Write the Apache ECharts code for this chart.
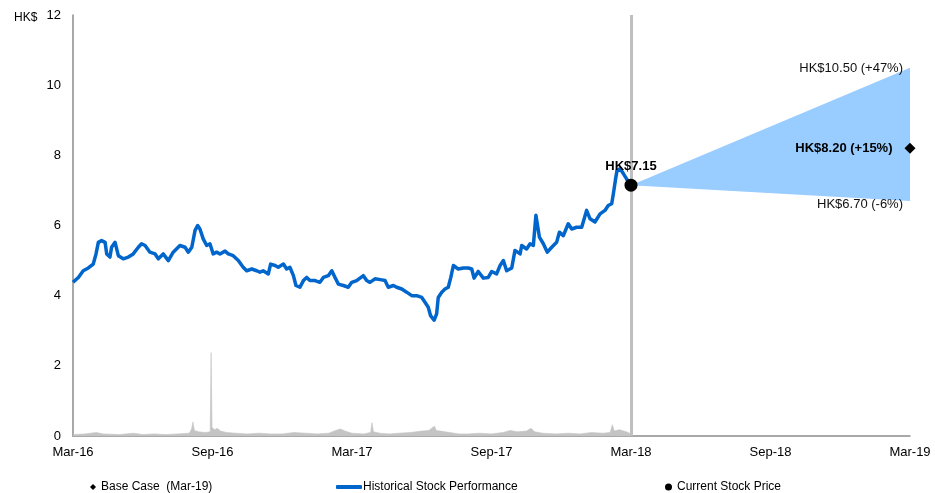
<!DOCTYPE html>
<html>
<head>
<meta charset="utf-8">
<script src="https://cdn.jsdelivr.net/npm/echarts@6/dist/echarts.min.js"></script>
<style>
  html, body { margin: 0; padding: 0; background: #fff; }
  #chart { width: 935px; height: 493px; }
</style>
</head>
<body>
<div id="chart"></div>
<script>
// x positions are months since Mar-16; prices in HK$
const tickLabels = ['Mar-16', 'Sep-16', 'Mar-17', 'Sep-17', 'Mar-18', 'Sep-18', 'Mar-19'];

// Historical closing price [month, HK$]
const priceHistory = [
  [0.00, 4.38], [0.23, 4.52], [0.44, 4.71], [0.66, 4.79], [0.87, 4.90], [0.99, 5.19],
  [1.09, 5.52], [1.23, 5.57], [1.38, 5.52], [1.45, 5.19], [1.59, 5.10], [1.66, 5.38],
  [1.81, 5.52], [1.95, 5.14], [2.16, 5.05], [2.38, 5.10], [2.59, 5.19], [2.81, 5.38],
  [2.95, 5.48], [3.10, 5.43], [3.31, 5.24], [3.53, 5.19], [3.67, 5.05], [3.88, 5.19],
  [4.10, 5.00], [4.31, 5.24], [4.60, 5.43], [4.82, 5.38], [4.96, 5.24], [5.11, 5.38],
  [5.25, 5.86], [5.36, 6.00], [5.46, 5.90], [5.60, 5.62], [5.75, 5.43], [5.89, 5.48],
  [6.03, 5.19], [6.18, 5.24], [6.32, 5.19], [6.54, 5.27], [6.68, 5.19], [6.89, 5.14],
  [7.11, 5.00], [7.32, 4.81], [7.47, 4.71], [7.69, 4.76], [7.90, 4.71], [8.04, 4.67],
  [8.18, 4.71], [8.40, 4.62], [8.50, 4.90], [8.69, 4.86], [8.83, 4.81], [9.05, 4.90],
  [9.19, 4.76], [9.33, 4.81], [9.48, 4.57], [9.59, 4.29], [9.76, 4.24], [9.91, 4.43],
  [10.05, 4.52], [10.19, 4.43], [10.41, 4.43], [10.62, 4.38], [10.77, 4.52], [10.98, 4.57],
  [11.13, 4.71], [11.27, 4.52], [11.41, 4.33], [11.63, 4.29], [11.84, 4.24], [11.99, 4.38],
  [12.20, 4.43], [12.49, 4.57], [12.63, 4.43], [12.77, 4.38], [12.99, 4.48], [13.28, 4.45],
  [13.42, 4.43], [13.56, 4.24], [13.78, 4.29], [13.92, 4.24], [14.14, 4.19], [14.35, 4.10],
  [14.57, 4.00], [14.78, 4.00], [15.00, 3.95], [15.14, 3.81], [15.28, 3.67], [15.38, 3.43],
  [15.53, 3.30], [15.64, 3.48], [15.71, 3.95], [15.86, 4.10], [16.00, 4.19], [16.14, 4.24],
  [16.25, 4.52], [16.36, 4.86], [16.57, 4.76], [16.79, 4.79], [17.00, 4.79], [17.15, 4.76],
  [17.25, 4.50], [17.43, 4.69], [17.65, 4.50], [17.86, 4.52], [18.01, 4.69], [18.22, 4.62],
  [18.37, 4.86], [18.51, 5.00], [18.65, 4.71], [18.87, 4.79], [19.01, 5.29], [19.23, 5.19],
  [19.30, 5.43], [19.51, 5.33], [19.66, 5.48], [19.80, 5.43], [19.91, 6.29], [20.06, 5.67],
  [20.23, 5.48], [20.40, 5.24], [20.59, 5.38], [20.80, 5.52], [20.92, 5.81], [21.09, 5.71],
  [21.30, 6.05], [21.45, 5.90], [21.66, 5.95], [21.88, 5.95], [22.09, 6.43], [22.24, 6.19],
  [22.45, 6.10], [22.67, 6.33], [22.88, 6.43], [23.02, 6.57], [23.17, 6.62], [23.24, 6.90],
  [23.33, 7.30], [23.40, 7.57], [23.53, 7.62], [23.67, 7.48], [23.81, 7.33], [23.91, 7.20]
];

// Daily traded volume, millions of shares [month, volume]
const volumeHistory = [
  [0.0, 0.2], [0.5, 0.3], [1.0, 0.5], [1.3, 0.3], [2.0, 0.2], [2.6, 0.4], [3.0, 0.2],
  [3.5, 0.3], [4.0, 0.2], [4.5, 0.3], [5.0, 0.4], [5.1, 1.0], [5.16, 2.0], [5.22, 0.8],
  [5.4, 0.6], [5.7, 0.5], [5.9, 0.6], [5.94, 11.9], [5.98, 1.2], [6.1, 0.9], [6.2, 1.1],
  [6.35, 0.7], [6.6, 0.5], [7.0, 0.4], [7.5, 0.3], [8.0, 0.4], [8.5, 0.3], [9.0, 0.3],
  [9.5, 0.5], [10.0, 0.4], [10.5, 0.3], [11.0, 0.4], [11.3, 0.8], [11.5, 1.0], [11.7, 0.7],
  [12.0, 0.4], [12.5, 0.3], [12.8, 0.5], [12.86, 1.9], [12.92, 0.6], [13.2, 0.4], [13.6, 0.3],
  [14.0, 0.4], [14.5, 0.5], [15.0, 0.7], [15.3, 0.8], [15.55, 1.4], [15.62, 0.8], [15.8, 0.7],
  [16.2, 0.5], [16.6, 0.3], [17.0, 0.3], [17.5, 0.4], [18.0, 0.3], [18.5, 0.5], [18.8, 0.8],
  [19.1, 0.6], [19.5, 0.7], [19.7, 1.1], [19.85, 0.6], [20.2, 0.4], [20.8, 0.3], [21.3, 0.4],
  [21.8, 0.3], [22.3, 0.5], [22.8, 0.4], [23.1, 0.5], [23.2, 1.6], [23.28, 0.7], [23.5, 0.9],
  [23.8, 0.6], [24.0, 0.3]
];

const currentDate = 24;     // Mar-18
const currentPrice = 7.15;
const targetDate = 36;      // Mar-19
const targetHigh = 10.50;
const targetBase = 8.20;
const targetLow = 6.70;

function pctText(v) {
  const p = Math.round((v / currentPrice - 1) * 100);
  return (p >= 0 ? '+' : '') + p + '%';
}
function priceLabel(v) {
  return 'HK$' + v.toFixed(2) + ' (' + pctText(v) + ')';
}

const FONT = 'Liberation Sans, Arial, sans-serif';

const chart = echarts.init(document.getElementById('chart'), null, { renderer: 'canvas' });

chart.setOption({
  animation: false,
  backgroundColor: '#ffffff',
  textStyle: { fontFamily: FONT },
  title: {
    text: 'HK$',
    left: 9,
    top: 7,
    textStyle: { fontSize: 12, fontWeight: 'normal', color: '#000', fontFamily: FONT }
  },
  grid: { left: 73, right: 25, top: 15, bottom: 57, containLabel: false },
  legend: [
    {
      left: 85, top: 476, itemWidth: 6, itemHeight: 6, itemGap: 6,
      icon: 'diamond',
      textStyle: { fontSize: 12, color: '#000', fontFamily: FONT },
      data: [{ name: 'Base Case  (Mar-19)', itemStyle: { color: '#000', opacity: 1 } }]
    },
    {
      left: 331, top: 476, itemWidth: 26, itemHeight: 4, itemGap: 6,
      icon: 'roundRect',
      textStyle: { fontSize: 12, color: '#000', fontFamily: FONT, padding: [0, 0, 0, -4] },
      data: [{ name: 'Historical Stock Performance' }]
    },
    {
      left: 660, top: 476, itemWidth: 7, itemHeight: 7, itemGap: 6,
      icon: 'circle',
      textStyle: { fontSize: 12, color: '#000', fontFamily: FONT },
      data: [{ name: 'Current Stock Price', itemStyle: { color: '#000', opacity: 1 } }]
    }
  ],
  xAxis: {
    type: 'value',
    min: 0,
    max: 36,
    interval: 6,
    splitLine: { show: false },
    axisTick: { show: false },
    axisLine: { show: true, lineStyle: { color: '#8c8c8c', width: 1.5 } },
    axisLabel: {
      fontSize: 13, color: '#000', margin: 10, fontFamily: FONT,
      formatter: v => tickLabels[Math.round(v / 6)] || ''
    }
  },
  yAxis: [
    {
      type: 'value',
      min: 0,
      max: 12,
      interval: 2,
      splitLine: { show: false },
      axisTick: { show: false },
      axisLine: { show: true, lineStyle: { color: '#8c8c8c', width: 1.5 } },
      axisLabel: { fontSize: 13, color: '#000', margin: 12, fontFamily: FONT }
    },
    {
      type: 'value',
      min: 0,
      max: 60,
      show: false,
      splitLine: { show: false }
    }
  ],
  series: [
    {
      name: 'Volume',
      type: 'line',
      yAxisIndex: 1,
      data: volumeHistory,
      symbol: 'none',
      silent: true,
      lineStyle: { width: 0.6, color: '#c4c4c4' },
      areaStyle: { color: '#c4c4c4', opacity: 1 },
      z: 1
    },
    {
      // Price-target fan: current price out to the high / low targets
      name: 'fan',
      type: 'custom',
      silent: true,
      clip: false,
      data: [[currentDate, currentPrice, targetDate, targetHigh, targetLow]],
      renderItem: (params, api) => {
        const p0 = api.coord([api.value(0), api.value(1)]);
        const pHi = api.coord([api.value(2), api.value(3)]);
        const pLo = api.coord([api.value(2), api.value(4)]);
        return {
          type: 'polygon',
          shape: { points: [p0, pHi, pLo] },
          style: { fill: '#99ccff', stroke: 'none' }
        };
      },
      z: 2
    },
    {
      name: 'Historical Stock Performance',
      type: 'line',
      data: priceHistory,
      symbol: 'none',
      color: '#0066cc',
      lineStyle: { width: 3.5, color: '#0066cc', join: 'round' },
      z: 4,
      markLine: {
        silent: true,
        symbol: ['none', 'none'],
        label: { show: false },
        lineStyle: { color: '#bfbfbf', width: 3, type: 'solid' },
        data: [{ xAxis: currentDate }],
        z: 3
      }
    },
    {
      name: 'targets',
      type: 'scatter',
      data: [
        { value: [targetDate, targetHigh], label: { offset: [0, 1] } },
        { value: [targetDate, targetLow], label: { offset: [0, 3] } }
      ],
      symbolSize: 0,
      clip: false,
      silent: true,
      itemStyle: { opacity: 1 },
      label: {
        show: true,
        position: 'left',
        distance: 7,
        fontSize: 13,
        color: '#111',
        fontFamily: FONT,
        formatter: p => priceLabel(p.value[1])
      },
      z: 5
    },
    {
      name: 'Base Case  (Mar-19)',
      type: 'scatter',
      data: [[targetDate, targetBase]],
      symbol: 'diamond',
      symbolSize: 11,
      clip: false,
      itemStyle: { color: '#000', opacity: 1 },
      label: {
        show: true,
        position: 'left',
        distance: 12,
        fontSize: 13,
        fontWeight: 'bold',
        color: '#000',
        fontFamily: FONT,
        formatter: p => priceLabel(p.value[1])
      },
      z: 6
    },
    {
      name: 'Current Stock Price',
      type: 'scatter',
      data: [[currentDate, currentPrice]],
      symbol: 'circle',
      symbolSize: 13,
      clip: false,
      itemStyle: { color: '#000', opacity: 1 },
      label: {
        show: true,
        position: 'top',
        distance: 6,
        fontSize: 13,
        fontWeight: 'bold',
        color: '#000',
        fontFamily: FONT,
        formatter: p => 'HK$' + p.value[1].toFixed(2)
      },
      z: 6
    }
  ]
});
</script>
</body>
</html>
